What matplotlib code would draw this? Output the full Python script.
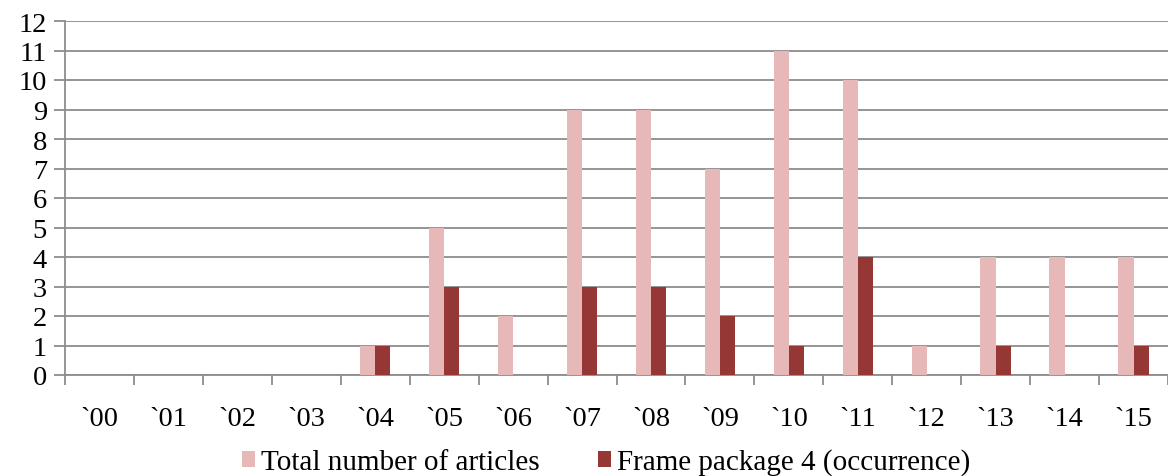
import matplotlib
matplotlib.use("Agg")
import matplotlib.pyplot as plt
import numpy as np

years = ["`00", "`01", "`02", "`03", "`04", "`05", "`06", "`07",
         "`08", "`09", "`10", "`11", "`12", "`13", "`14", "`15"]
total_articles = [0, 0, 0, 0, 1, 5, 2, 9, 9, 7, 11, 10, 1, 4, 4, 4]
frame_package_4 = [0, 0, 0, 0, 1, 3, 0, 3, 3, 2, 1, 4, 0, 1, 0, 1]

pink = "#E6B9B8"
dark_red = "#953735"
grid_grey = "#8C8C8C"

plt.rcParams["font.family"] = ["Liberation Serif", "DejaVu Serif"]

W, H = 1168, 477
fig = plt.figure(figsize=(W / 100, H / 100), dpi=100)
ax = fig.add_axes([65 / W, 1 - 376 / H, (1168 - 65) / W, (376 - 22) / H])

x = np.arange(len(years))
bw = 0.22
ax.bar(x - bw / 2, total_articles, width=bw, color=pink, label="Total number of articles", zorder=3)
ax.bar(x + bw / 2, frame_package_4, width=bw, color=dark_red, label="Frame package 4 (occurrence)", zorder=3)

ax.set_xlim(-0.5, len(years) - 0.5)
ax.set_ylim(0, 12)
ax.set_yticks(range(0, 13))
ax.yaxis.grid(True, color=grid_grey, linewidth=1.3, zorder=0)
ax.set_axisbelow(True)

for side in ("top", "right"):
    ax.spines[side].set_visible(False)
for side in ("left", "bottom"):
    ax.spines[side].set_color(grid_grey)
    ax.spines[side].set_linewidth(1.3)

ax.set_xticks(x)
ax.set_xticklabels(years)
ax.tick_params(axis="x", length=0, labelsize=20.5, pad=22)
ax.set_xticks(np.arange(-0.5, len(years), 1.0), minor=True)
ax.tick_params(axis="x", which="minor", length=7, width=1.3, color=grid_grey, direction="out")
ax.tick_params(axis="y", length=8, width=1.3, color=grid_grey, labelsize=20.5, pad=5)

fig.legend(loc="center", bbox_to_anchor=(606 / W, 1 - 463 / H), ncol=2, frameon=False,
           fontsize=21, handlelength=0.45, handleheight=0.45, handletextpad=0.2,
           columnspacing=2.0)

fig.savefig("out.png", dpi=100)
